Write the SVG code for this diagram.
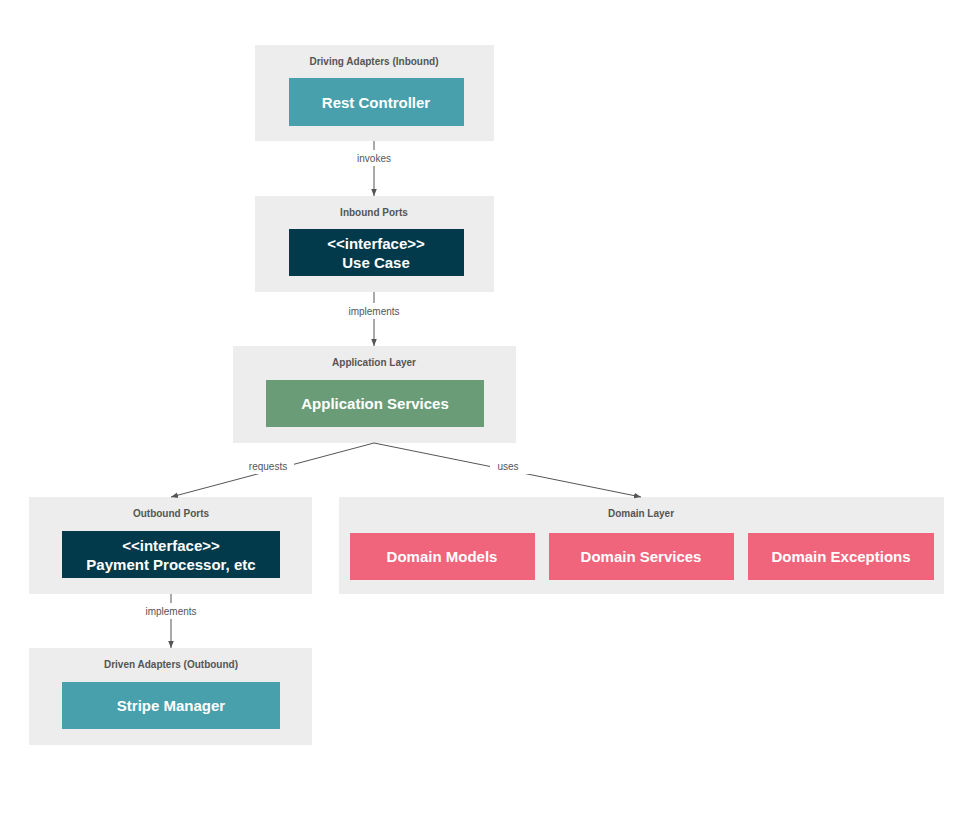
<svg xmlns="http://www.w3.org/2000/svg" width="960" height="827" viewBox="0 0 960 827">
<style>
.grp{fill:#ededed}
.gt{font-family:"Liberation Sans",Arial,sans-serif;font-size:10px;font-weight:bold;fill:#555;text-anchor:middle}
.bt{font-family:"Liberation Sans",Arial,sans-serif;font-size:15px;font-weight:bold;fill:#fff;text-anchor:middle}
.el{font-family:"Liberation Sans",Arial,sans-serif;font-size:10px;fill:#555;text-anchor:middle}
.ln{stroke:#555;stroke-width:1;fill:none;marker-end:url(#a)}
.teal{fill:#47a0ab}.navy{fill:#023a4c}.green{fill:#6a9d77}.pink{fill:#f0647c}
</style>
<defs><marker id="a" viewBox="0 0 10 10" refX="10" refY="5" markerWidth="7" markerHeight="7" orient="auto"><path d="M0,1L10,5L0,9z" fill="#555"/></marker></defs>
<rect width="960" height="827" fill="#fff"/>
<g id="driving"><rect class="grp" x="255" y="45" width="239" height="96"/><text class="gt" x="374" y="65">Driving Adapters (Inbound)</text><rect class="teal" x="289" y="78" width="175" height="48"/><text class="bt" x="376" y="108">Rest Controller</text></g>
<g id="inbound"><rect class="grp" x="255" y="196" width="239" height="96"/><text class="gt" x="374" y="216">Inbound Ports</text><rect class="navy" x="289" y="229" width="175" height="47"/><text class="bt" x="376" y="249">&lt;&lt;interface&gt;&gt;</text><text class="bt" x="376" y="268">Use Case</text></g>
<g id="app"><rect class="grp" x="233" y="346" width="283" height="97"/><text class="gt" x="374" y="366">Application Layer</text><rect class="green" x="266" y="380" width="218" height="47"/><text class="bt" x="375" y="409">Application Services</text></g>
<g id="outbound"><rect class="grp" x="29" y="497" width="283" height="97"/><text class="gt" x="171" y="517">Outbound Ports</text><rect class="navy" x="62" y="531" width="218" height="47"/><text class="bt" x="171" y="551">&lt;&lt;interface&gt;&gt;</text><text class="bt" x="171" y="570">Payment Processor, etc</text></g>
<g id="domain"><rect class="grp" x="339" y="497" width="605" height="97"/><text class="gt" x="641" y="517">Domain Layer</text>
<rect class="pink" x="350" y="533" width="185" height="47"/><text class="bt" x="442" y="562">Domain Models</text>
<rect class="pink" x="549" y="533" width="185" height="47"/><text class="bt" x="641" y="562">Domain Services</text>
<rect class="pink" x="748" y="533" width="186" height="47"/><text class="bt" x="841" y="562">Domain Exceptions</text></g>
<g id="driven"><rect class="grp" x="29" y="648" width="283" height="97"/><text class="gt" x="171" y="668">Driven Adapters (Outbound)</text><rect class="teal" x="62" y="682" width="218" height="47"/><text class="bt" x="171" y="711">Stripe Manager</text></g>
<g id="connectors">
<line class="ln" x1="374" y1="141" x2="374" y2="196"/>
<line class="ln" x1="374" y1="292" x2="374" y2="346"/>
<line class="ln" x1="374" y1="443" x2="171" y2="497"/>
<line class="ln" x1="374" y1="443" x2="641" y2="497"/>
<line class="ln" x1="171" y1="594" x2="171" y2="648"/>
<rect x="352" y="150" width="44" height="16" fill="#fff"/><text class="el" x="374" y="162">invokes</text>
<rect x="344" y="303" width="60" height="16" fill="#fff"/><text class="el" x="374" y="315">implements</text>
<rect x="242" y="458" width="52" height="16" fill="#fff"/><text class="el" x="268" y="470">requests</text>
<rect x="490" y="458" width="56" height="16" fill="#fff"/><text class="el" x="508" y="470">uses</text>
<rect x="141" y="603" width="60" height="16" fill="#fff"/><text class="el" x="171" y="615">implements</text>
</g>
</svg>
